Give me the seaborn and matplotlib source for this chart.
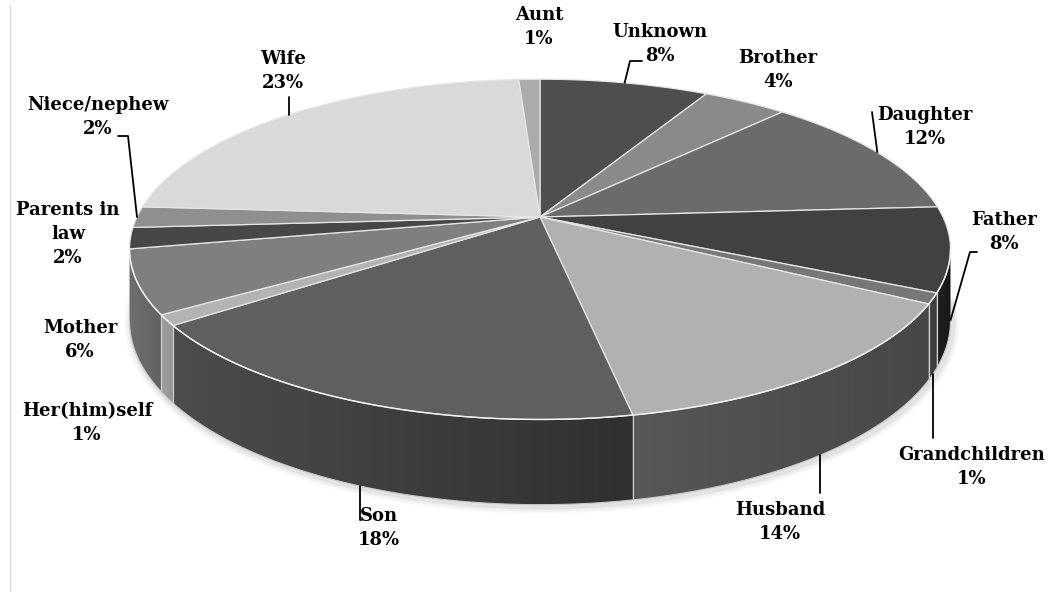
import numpy as np
import matplotlib
matplotlib.use("Agg")
import matplotlib.pyplot as plt
from matplotlib.patches import Polygon
import matplotlib.colors as mcolors
import seaborn as sns

# ---------------- data ----------------
categories = ["Unknown", "Brother", "Daughter", "Father", "Grandchildren", "Husband",
              "Son", "Her(him)self", "Mother", "Parents in\nlaw", "Niece/nephew", "Wife", "Aunt"]
shares = [8, 4, 12, 8, 1, 14, 18, 1, 6, 2, 2, 23, 1]

# ---------------- style ----------------
top_colors = ["#4e4e4e", "#8a8a8a", "#6b6b6b", "#414141", "#777777", "#b1b1b1",
              "#5f5f5f", "#b3b3b3", "#7f7f7f", "#474747", "#8f8f8f", "#d9d9d9", "#ababab"]
# side wall gradient colours (screen-left end, screen-right end)
side_left = ["#3a3a3a", "#666666", "#505050", "#222222", "#444444", "#575757",
             "#4c4c4c", "#a0a0a0", "#6e6e6e", "#3a3a3a", "#777777", "#aaaaaa", "#888888"]
side_right = ["#303030", "#5a5a5a", "#454545", "#161616", "#3a3a3a", "#474747",
              "#303030", "#949494", "#626262", "#303030", "#6a6a6a", "#9a9a9a", "#7a7a7a"]

sns.set_theme(style="white")
plt.rcParams['font.family'] = ['DejaVu Serif', 'DejaVu Sans']

# pie geometry (pixel space)
CX, CY = 540, 217
R, SV, P, T = 403, 164, 0.19, 69
VIS0, VIS1 = 101.0, 259.0   # visible side wall angular range


def proj(theta_deg):
    th = np.radians(theta_deg)
    u, v = np.sin(th), np.cos(th)
    w = 1 + P * v
    return CX + R * u / w, CY - SV * v / w, T / w


# label layout (pixel centres)
label_pos = {
    "Unknown": (660, 44), "Brother": (778, 70), "Daughter": (925, 127),
    "Father": (1004, 232), "Grandchildren": (972, 467), "Husband": (780, 522),
    "Son": (379, 528), "Her(him)self": (87, 423), "Mother": (80, 340),
    "Parents in\nlaw": (68, 234), "Niece/nephew": (98, 117), "Wife": (283, 71),
    "Aunt": (539, 27),
}

fig = plt.figure(figsize=(10.56, 5.92), dpi=100)
ax = fig.add_axes([0, 0, 1, 1])

total = float(sum(shares))
bounds = np.concatenate([[0], np.cumsum(shares)]) / total * 360.0

# ---------- shadow ----------
th_sh = np.linspace(95, 265, 200)
xs, ys, ts = proj(th_sh)
for lw, a in [(10, 0.04), (7, 0.06), (4, 0.09)]:
    ax.plot(xs + 2, ys + ts + 2, color="#606060", lw=lw, alpha=a,
            solid_capstyle='round', zorder=1)

# ---------- side walls (front, visible part) ----------
for i, (a0, a1) in enumerate(zip(bounds[:-1], bounds[1:])):
    t0, t1 = max(a0, VIS0), min(a1, VIS1)
    if t1 <= t0:
        continue
    ths = np.linspace(t0, t1, max(4, int((t1 - t0) * 3)))
    x, y, d = proj(ths)
    pts = np.column_stack([np.concatenate([x, x[::-1]]),
                           np.concatenate([y, (y + d)[::-1]])])
    poly = Polygon(pts, closed=True, facecolor='none', edgecolor='none', zorder=2)
    ax.add_patch(poly)
    cl = np.array(mcolors.to_rgb(side_left[i]))
    cr = np.array(mcolors.to_rgb(side_right[i]))
    g = np.linspace(0, 1, 64)[:, None]
    img = (cl * (1 - g) + cr * g)[None, :, :]
    im = ax.imshow(img, extent=(pts[:, 0].min() - 1, pts[:, 0].max() + 1,
                                pts[:, 1].max() + 1, pts[:, 1].min() - 1),
                   aspect='auto', interpolation='bilinear', zorder=2)
    im.set_clip_path(poly)

# slice boundary lines on visible side
for b in bounds:
    bb = b % 360
    if VIS0 < bb < VIS1:
        x, y, d = proj(bb)
        ax.plot([x, x], [y, y + d], color="#d4d4d4", lw=0.8, zorder=3)

# bottom rim
xs, ys, ts = proj(np.linspace(VIS0, VIS1, 200))
ax.plot(xs, ys + ts, color="#c8c8c8", lw=0.8, zorder=3)

# ---------- top faces ----------
for i, (a0, a1) in enumerate(zip(bounds[:-1], bounds[1:])):
    ths = np.linspace(a0, a1, max(3, int((a1 - a0) * 2)))
    x, y, _ = proj(ths)
    pts = np.column_stack([np.concatenate([[CX], x]), np.concatenate([[CY], y])])
    ax.add_patch(Polygon(pts, closed=True, facecolor=top_colors[i],
                         edgecolor="#e6e6e6", lw=0.9, zorder=4))

# front rim highlight
xs, ys, _ = proj(np.linspace(VIS0, VIS1, 200))
ax.plot(xs, ys, color="#f2f2f2", lw=1.0, zorder=5)

# ---------- labels ----------
for i, name in enumerate(categories):
    lx, ly = label_pos[name]
    ax.text(lx, ly, f"{name}\n{shares[i]}%", ha='center', va='center',
            fontsize=13, fontweight='bold', color='black', linespacing=1.45, zorder=6)


def anchor(idx, bottom):
    mid = (bounds[idx] + bounds[idx + 1]) / 2
    x, y, d = proj(mid)
    return (x, y + d) if bottom else (x, y)


leader_spec = {
    "Unknown": (False, lambda a: [(642, 61), (630, 61), a]),
    "Daughter": (False, lambda a: [(872, 112), a]),
    "Father": (True, lambda a: [(977, 252), (970, 252), a]),
    "Grandchildren": (True, lambda a: [(a[0], 438), a]),
    "Husband": (True, lambda a: [(a[0], 493), a]),
    "Son": (True, lambda a: [(361, 520), (a[0], 520), a]),
    "Niece/nephew": (False, lambda a: [(118, 136), (128, 136), a]),
    "Wife": (False, lambda a: [(a[0], 97), a]),
}
for name, (bottom, fn) in leader_spec.items():
    idx = categories.index(name)
    pts = np.array(fn(anchor(idx, bottom)))
    ax.plot(pts[:, 0], pts[:, 1], color='black', lw=1.3, zorder=6)

# left frame line
ax.plot([9.5, 9.5], [5, 592], color="#d9d9d9", lw=1, zorder=0)

ax.set_xlim(0, 1056)
ax.set_ylim(592, 0)
ax.set_aspect('auto')
ax.axis('off')

fig.savefig("out.png", dpi=100)
